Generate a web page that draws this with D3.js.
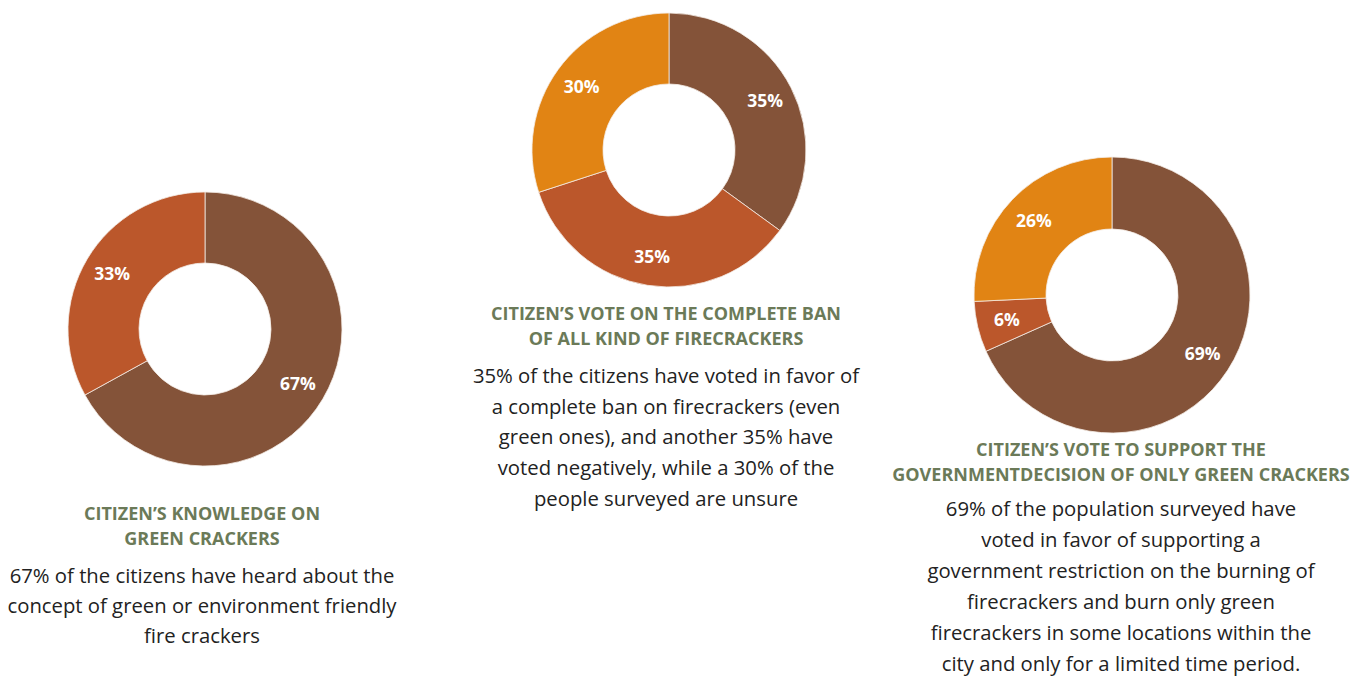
<!DOCTYPE html>
<html>
<head>
<meta charset="utf-8">
<script src="https://cdn.jsdelivr.net/npm/d3@7"></script>
<style>
  html, body { margin: 0; padding: 0; background: #ffffff; }
  svg { display: block; }
</style>
</head>
<body>
<svg id="chart" width="1369" height="676"></svg>
<script>
// Survey results: one donut per question
const knowledgeLabels = ["Heard of green crackers", "Not heard"];
const knowledgeValues = [67, 33];

const banLabels = ["In favor", "Against", "Unsure"];
const banValues = [35, 35, 30];

const supportLabels = ["Support", "Oppose", "Unsure"];
const supportValues = [69, 6, 26];

const knowledgeTitle = ["CITIZEN\u2019S KNOWLEDGE ON", "GREEN CRACKERS"];
const knowledgeText = [
  "67% of the citizens have heard about the",
  "concept of green or environment friendly",
  "fire crackers"
];
const banTitle = ["CITIZEN\u2019S VOTE ON THE COMPLETE BAN", "OF ALL KIND OF FIRECRACKERS"];
const banText = [
  "35% of the citizens have voted in favor of",
  "a complete ban on firecrackers (even",
  "green ones), and another 35% have",
  "voted negatively, while a 30% of the",
  "people surveyed are unsure"
];
const supportTitle = ["CITIZEN\u2019S VOTE TO SUPPORT THE", "GOVERNMENTDECISION OF ONLY GREEN CRACKERS"];
const supportText = [
  "69% of the population surveyed have",
  "voted in favor of supporting a",
  "government restriction on the burning of",
  "firecrackers and burn only green",
  "firecrackers in some locations within the",
  "city and only for a limited time period."
];

const sliceColors = ["#845339", "#bb572b", "#e18414"];

const svg = d3.select("#chart");
const FONT = "'Open Sans', 'Noto Sans', sans-serif";

const pie = d3.pie().sort(null).value(d => d);

function donut(values, cx, cy, rOuter, rInner) {
  const arc = d3.arc().innerRadius(rInner).outerRadius(rOuter);
  const labelArc = d3.arc().innerRadius(108).outerRadius(108);
  const g = svg.append("g").attr("transform", `translate(${cx},${cy})`);
  const arcs = pie(values);
  g.selectAll("path.slice").data(arcs).join("path")
    .attr("class", "slice")
    .attr("d", arc)
    .attr("fill", (d, i) => sliceColors[i])
    .attr("stroke", "#f4ece6")
    .attr("stroke-width", 0.8);
  g.selectAll("text.val").data(arcs).join("text")
    .attr("class", "val")
    .attr("transform", d => `translate(${labelArc.centroid(d)})`)
    .attr("text-anchor", "middle")
    .attr("dy", "0.36em")
    .attr("fill", "#ffffff")
    .attr("font-family", FONT)
    .attr("font-weight", 700)
    .attr("font-size", 17.5)
    .text(d => d.data + "%");
}

function caption(titleLines, bodyLines, cx, titleY, bodyY, bodyStep) {
  const g = svg.append("g");
  g.selectAll("text.title").data(titleLines).join("text")
    .attr("class", "title")
    .attr("x", cx)
    .attr("y", (d, i) => titleY + i * 25)
    .attr("text-anchor", "middle")
    .attr("fill", "#6b7a58")
    .attr("font-family", FONT)
    .attr("font-weight", 700)
    .attr("font-size", 18)
    .text(d => d);
  g.selectAll("text.body").data(bodyLines).join("text")
    .attr("class", "body")
    .attr("x", cx)
    .attr("y", (d, i) => bodyY + i * bodyStep)
    .attr("text-anchor", "middle")
    .attr("fill", "#222222")
    .attr("font-family", FONT)
    .attr("font-size", 20.3)
    .text(d => d);
}

donut(knowledgeValues, 205, 329, 137, 66);
donut(banValues, 669, 150, 137, 66);
donut(supportValues, 1112, 295, 138, 66);

caption(knowledgeTitle, knowledgeText, 202, 520, 583, 30);
caption(banTitle, banText, 666, 320, 383, 30.7);
caption(supportTitle, supportText, 1121, 456, 516, 31);
</script>
</body>
</html>
